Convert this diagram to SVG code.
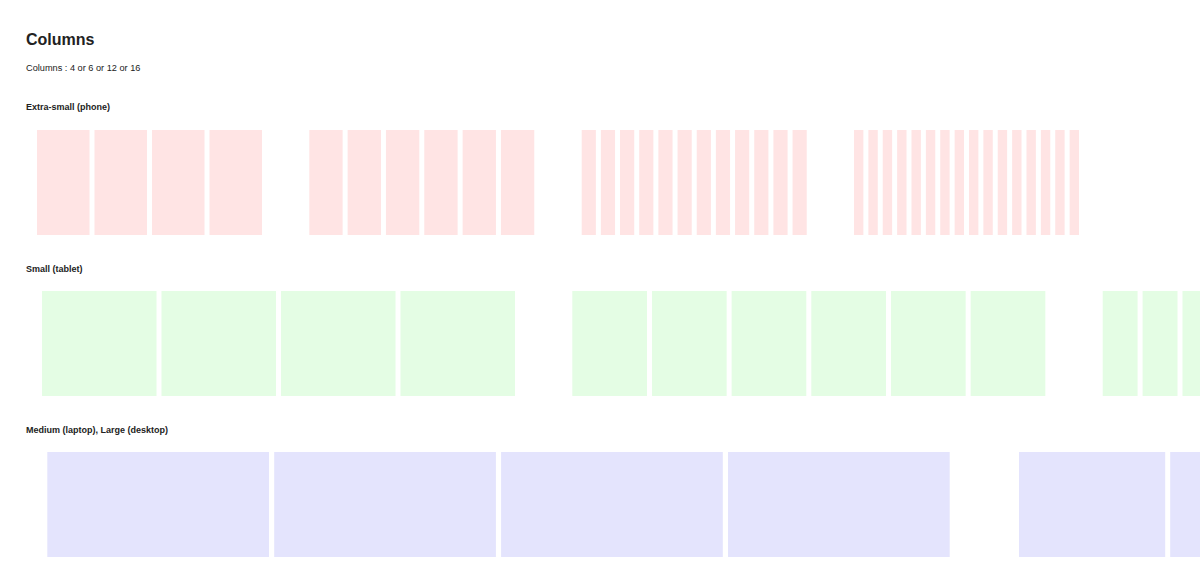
<svg xmlns="http://www.w3.org/2000/svg" width="1200" height="583" viewBox="0 0 1200 583">
  <style>
    text { font-family: "Liberation Sans", Arial, Helvetica, sans-serif; fill: #222; }
    .title { font-size: 16px; font-weight: bold; }
    .sub { font-size: 9.2px; }
    .lbl { font-size: 9px; font-weight: bold; }
    .xs rect { fill: #ffe4e4; }
    .sm rect { fill: #e4fde4; }
    .md rect { fill: #e4e4fd; }
  </style>
  <rect x="0" y="0" width="1200" height="583" fill="#ffffff"/>
  <g id="header">
    <text class="title" x="26" y="45">Columns</text>
    <text class="sub" x="26" y="70.5">Columns : 4 or 6 or 12 or 16</text>
  </g>

  <g id="extra-small">
    <text class="lbl" x="26" y="109.5">Extra-small (phone)</text>
    <g id="xs-4" class="xs">
      <rect x="37" y="130" width="52.5" height="105"/>
      <rect x="94.5" y="130" width="52.5" height="105"/>
      <rect x="152" y="130" width="52.5" height="105"/>
      <rect x="209.5" y="130" width="52.5" height="105"/>
    </g>
    <g id="xs-6" class="xs">
      <rect x="309.3" y="130" width="33.33" height="105"/>
      <rect x="347.63" y="130" width="33.33" height="105"/>
      <rect x="385.96" y="130" width="33.33" height="105"/>
      <rect x="424.29" y="130" width="33.33" height="105"/>
      <rect x="462.62" y="130" width="33.33" height="105"/>
      <rect x="500.95" y="130" width="33.33" height="105"/>
    </g>
    <g id="xs-12" class="xs">
      <rect x="581.7" y="130" width="14.17" height="105"/>
      <rect x="600.87" y="130" width="14.17" height="105"/>
      <rect x="620.04" y="130" width="14.17" height="105"/>
      <rect x="639.21" y="130" width="14.17" height="105"/>
      <rect x="658.38" y="130" width="14.17" height="105"/>
      <rect x="677.55" y="130" width="14.17" height="105"/>
      <rect x="696.72" y="130" width="14.17" height="105"/>
      <rect x="715.89" y="130" width="14.17" height="105"/>
      <rect x="735.06" y="130" width="14.17" height="105"/>
      <rect x="754.23" y="130" width="14.17" height="105"/>
      <rect x="773.4" y="130" width="14.17" height="105"/>
      <rect x="792.57" y="130" width="14.17" height="105"/>
    </g>
    <g id="xs-16" class="xs">
      <rect x="854" y="130" width="9.375" height="105"/>
      <rect x="868.375" y="130" width="9.375" height="105"/>
      <rect x="882.75" y="130" width="9.375" height="105"/>
      <rect x="897.125" y="130" width="9.375" height="105"/>
      <rect x="911.5" y="130" width="9.375" height="105"/>
      <rect x="925.875" y="130" width="9.375" height="105"/>
      <rect x="940.25" y="130" width="9.375" height="105"/>
      <rect x="954.625" y="130" width="9.375" height="105"/>
      <rect x="969" y="130" width="9.375" height="105"/>
      <rect x="983.375" y="130" width="9.375" height="105"/>
      <rect x="997.75" y="130" width="9.375" height="105"/>
      <rect x="1012.125" y="130" width="9.375" height="105"/>
      <rect x="1026.5" y="130" width="9.375" height="105"/>
      <rect x="1040.875" y="130" width="9.375" height="105"/>
      <rect x="1055.25" y="130" width="9.375" height="105"/>
      <rect x="1069.625" y="130" width="9.375" height="105"/>
    </g>
  </g>

  <g id="small">
    <text class="lbl" x="26" y="271.5">Small (tablet)</text>
    <g id="sm-4" class="sm">
      <rect x="42" y="291" width="114.5" height="105"/>
      <rect x="161.5" y="291" width="114.5" height="105"/>
      <rect x="281" y="291" width="114.5" height="105"/>
      <rect x="400.5" y="291" width="114.5" height="105"/>
    </g>
    <g id="sm-6" class="sm">
      <rect x="572.3" y="291" width="74.67" height="105"/>
      <rect x="651.97" y="291" width="74.67" height="105"/>
      <rect x="731.64" y="291" width="74.67" height="105"/>
      <rect x="811.31" y="291" width="74.67" height="105"/>
      <rect x="890.98" y="291" width="74.67" height="105"/>
      <rect x="970.65" y="291" width="74.67" height="105"/>
    </g>
    <g id="sm-12" class="sm">
      <rect x="1102.7" y="291" width="34.9" height="105"/>
      <rect x="1142.6" y="291" width="34.9" height="105"/>
      <rect x="1182.5" y="291" width="34.9" height="105"/>
    </g>
  </g>

  <g id="medium-large">
    <text class="lbl" x="26" y="433">Medium (laptop), Large (desktop)</text>
    <g id="md-4" class="md">
      <rect x="47.3" y="452" width="221.7" height="105"/>
      <rect x="274.2" y="452" width="221.7" height="105"/>
      <rect x="501.1" y="452" width="221.7" height="105"/>
      <rect x="728" y="452" width="221.7" height="105"/>
    </g>
    <g id="md-6" class="md">
      <rect x="1019" y="452" width="146.2" height="105"/>
      <rect x="1170.2" y="452" width="146.2" height="105"/>
    </g>
  </g>
  <g id="connectors"/>
</svg>
